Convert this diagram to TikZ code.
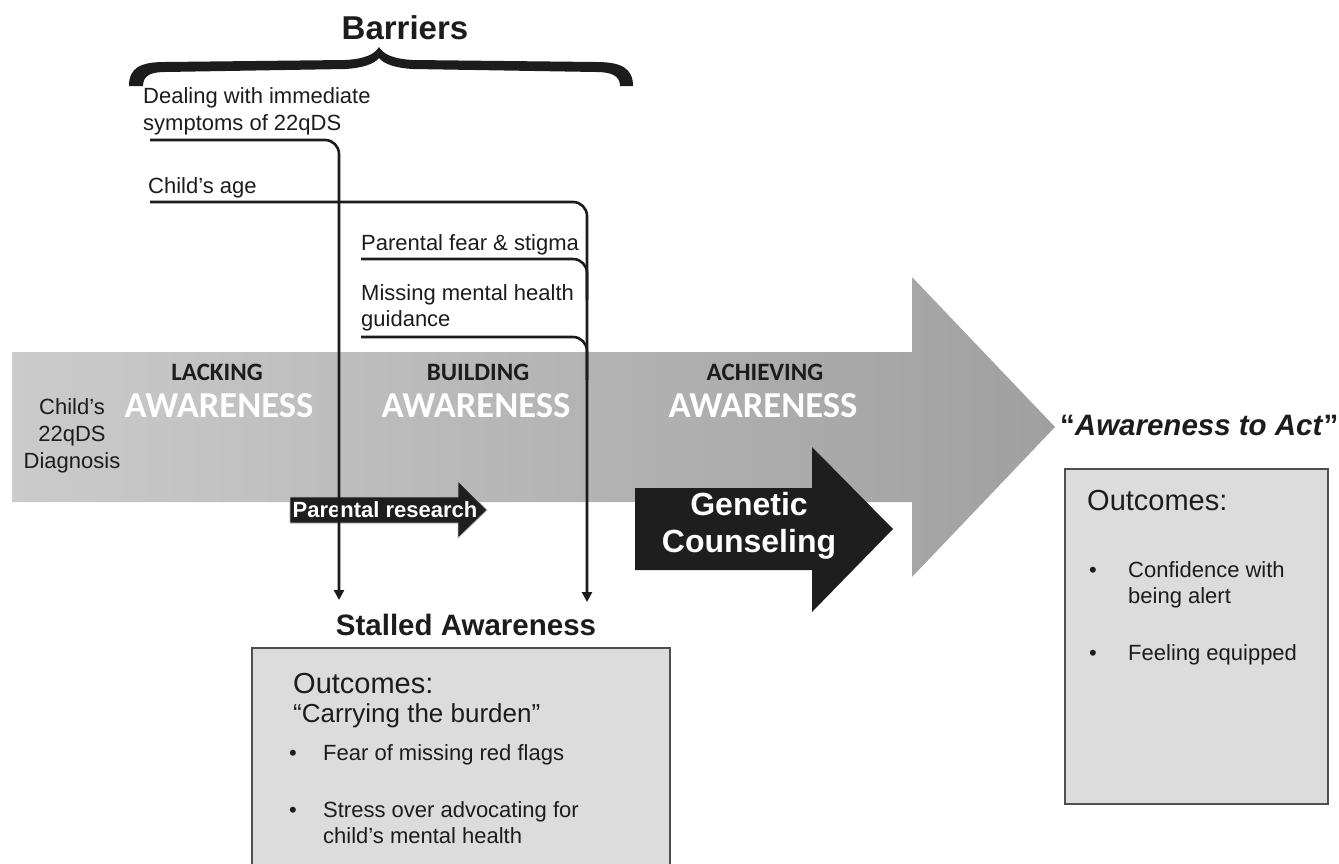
\documentclass[tikz,border=0pt]{standalone}
\usepackage{fontspec}
\setmainfont{Liberation Sans}
\newfontfamily\stagefont{Carlito}
\usetikzlibrary{arrows.meta}

\definecolor{ink}{HTML}{1C1C1C}
\definecolor{boxfill}{HTML}{DCDCDC}
\definecolor{boxline}{HTML}{4F4F4F}
\definecolor{bandlight}{HTML}{CBCBCB}
\definecolor{banddark}{HTML}{A0A0A0}
\definecolor{pointerfill}{HTML}{1E1E1E}

\begin{document}
\begin{tikzpicture}[x=1pt,y=-1pt,
  txt/.style={inner sep=0pt, text=ink, font=\fontsize{22}{27}\selectfont},
  % multi-line labels are placed by the baseline of their last line
  lbl/.style={txt, anchor=base west, align=left},
  barrier/.style={draw=ink, line width=2.6pt, rounded corners=14pt},
  stall/.style={barrier, -{Triangle[length=10pt,width=10pt]}},
  outbox/.style={draw=boxline, fill=boxfill, line width=2pt},
  pointer/.style={fill=pointerfill, draw=gray!60, line width=0.8pt},
  stage/.style={inner sep=0pt, anchor=base, text=ink,
    font=\stagefont\bfseries\fontsize{25}{25}\selectfont},
  stagebig/.style={inner sep=0pt, anchor=base, text=white,
    font=\stagefont\bfseries\fontsize{36.5}{36.5}\selectfont},
  bullet/.style={txt, anchor=base west},
]
\clip (0,0) rectangle (1339,863);
\fill[white] (0,0) rectangle (1339,863);

% main progression arrow
\shade[left color=bandlight, right color=banddark]
  (12,352) -- (912,352) -- (912,277) -- (1055,427) -- (912,577)
  -- (912,502) -- (12,502) -- cycle;

% intervention arrows
\fill[pointerfill] (635,488) -- (812,488) -- (812,447) -- (893,529)
  -- (812,612) -- (812,570) -- (635,570) -- cycle;
\filldraw[pointer] (290,497) -- (458,497) -- (458,481) -- (487,510)
  -- (458,538) -- (458,523) -- (290,523) -- cycle;
\node[inner sep=0pt, anchor=base, text=white,
  font=\bfseries\fontsize{22}{26}\selectfont] (research) at (385,517) {Parental research};
\node[inner sep=0pt, anchor=base, text=white, align=center,
  font=\bfseries\fontsize{32}{37}\selectfont] (gc) at (749,552) {Genetic\\Counseling};

% stage labels
\node[stage] (lack) at (217,380) {LACKING};
\node[stagebig] (lackA) at (219,417) {AWARENESS};
\node[stage] (build) at (478,380) {BUILDING};
\node[stagebig] (buildA) at (476,417) {AWARENESS};
\node[stage] (achieve) at (765,380) {ACHIEVING};
\node[stagebig] (achieveA) at (763,417) {AWARENESS};

\node[txt, anchor=base, align=center] (diag) at (72,468) {Child’s\\22qDS\\Diagnosis};

% barriers heading and curly brace (filled outline, thick ends)
\node[inner sep=0pt, anchor=base, text=ink,
  font=\bfseries\fontsize{33}{33}\selectfont] (barriers) at (405,39) {Barriers};
\fill[ink]
  (129,86) .. controls (129,68) and (140,62) .. (165,62)
  -- (345,60) .. controls (365,59) and (375,54) .. (379,47)
  .. controls (383,54) and (393,59) .. (413,60)
  -- (596,62) .. controls (621,62) and (633,68) .. (633,86)
  -- (620,86) .. controls (620,76) and (612,72) .. (596,72)
  -- (413,69) .. controls (395,68) and (384,64) .. (379,58)
  .. controls (374,64) and (363,68) .. (345,69)
  -- (165,72) .. controls (150,72) and (143,76) .. (143,86) -- cycle;

% barrier labels
\node[lbl] (deal) at (143,130) {Dealing with immediate\\symptoms of 22qDS};
\node[lbl] (age) at (148,193) {Child’s age};
\node[lbl] (fear) at (361,250) {Parental fear \& stigma};
\node[lbl, font=\fontsize{22}{26}\selectfont] (guide) at (361,326) {Missing mental health\\guidance};

\coordinate (dealS) at (150,140);
\coordinate (ageS) at (150,202);
\coordinate (fearS) at (361,259);
\coordinate (guideS) at (361,337);
\coordinate (fearJ) at (587,300);
\coordinate (guideJ) at (587,380);
\coordinate (dealE) at (339,600);
\coordinate (ageE) at (587,602);

% stalled outcome
\node[inner sep=0pt, anchor=base, text=ink,
  font=\bfseries\fontsize{29.5}{29.5}\selectfont] (stalled) at (466,635) {Stalled Awareness};
\draw[outbox] (252,648) rectangle (670,900);
\node[lbl, font=\fontsize{29}{29}\selectfont] (out1) at (293,693) {Outcomes:};
\node[lbl, font=\fontsize{26}{26}\selectfont] (burden) at (293,722) {“Carrying the burden”};
\node[bullet] (b1) at (289,760) {•};
\node[lbl] (t1) at (323,760) {Fear of missing red flags};
\node[bullet] (b2) at (289,817) {•};
\node[lbl, font=\fontsize{22}{26}\selectfont] (t2) at (323,843) {Stress over advocating for\\child’s mental health};

% achieved outcome
\node[inner sep=0pt, anchor=base west, text=ink,
  font=\fontsize{29.5}{29.5}\selectfont] (act) at (1060,435)
  {\bfseries “\textit{Awareness to Act}”};
\draw[outbox] (1065,469) rectangle (1328,804);
\node[lbl, font=\fontsize{29}{29}\selectfont] (out2) at (1087,510) {Outcomes:};
\node[bullet] (b3) at (1089,577) {•};
\node[lbl, font=\fontsize{22}{26}\selectfont] (t3) at (1128,603) {Confidence with\\being alert};
\node[bullet] (b4) at (1089,660) {•};
\node[lbl] (t4) at (1128,660) {Feeling equipped};

% barrier connectors
\draw[stall] (dealS) -| (dealE);
\draw[stall] (ageS) -| (ageE);
\draw[barrier] (fearS) -| (fearJ);
\draw[barrier] (guideS) -| (guideJ);
\end{tikzpicture}
\end{document}
